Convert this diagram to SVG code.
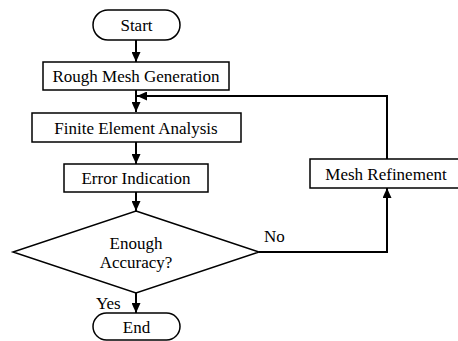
<svg xmlns="http://www.w3.org/2000/svg" width="458" height="341" viewBox="0 0 458 341">
<style>
.n{fill:#fff;stroke:#000;stroke-width:1.5}
.t{font-family:"Liberation Serif","Times New Roman",serif;font-size:17px;fill:#000;text-anchor:middle}
.l{font-family:"Liberation Serif","Times New Roman",serif;font-size:17px;fill:#000}
.c{fill:none;stroke:#000;stroke-width:2}
</style>
<defs>
<marker id="a" markerUnits="userSpaceOnUse" markerWidth="10" markerHeight="9" refX="10" refY="4.5" orient="auto">
<path d="M0,0 L10,4.5 L0,9 z" fill="#000"/>
</marker>
</defs>
<rect width="458" height="341" fill="#fff"/>
<g id="connectors">
<line class="c" x1="136" y1="40" x2="136" y2="62" marker-end="url(#a)"/>
<line class="c" x1="136" y1="90" x2="136" y2="112" marker-end="url(#a)"/>
<line class="c" x1="136" y1="142" x2="136" y2="164" marker-end="url(#a)"/>
<line class="c" x1="136" y1="192" x2="136" y2="211" marker-end="url(#a)"/>
<line class="c" x1="136" y1="293" x2="136" y2="313" marker-end="url(#a)"/>
<path class="c" d="M259,252 H387 V188" marker-end="url(#a)"/>
<path class="c" d="M387,159 V96 H137" marker-end="url(#a)"/>
<text class="l" x="264" y="242">No</text>
<text class="l" x="96" y="309">Yes</text>
</g>
<g id="start">
<rect class="n" x="93" y="10" width="87" height="30" rx="15" ry="15"/>
<text class="t" x="136.5" y="31">Start</text>
</g>
<g id="rough">
<rect class="n" x="43" y="62" width="186" height="28"/>
<text class="t" x="136" y="82">Rough Mesh Generation</text>
</g>
<g id="fea">
<rect class="n" x="32" y="113" width="209" height="29"/>
<text class="t" x="136" y="134">Finite Element Analysis</text>
</g>
<g id="error">
<rect class="n" x="64" y="164" width="144" height="28"/>
<text class="t" x="136" y="184">Error Indication</text>
</g>
<g id="decision">
<polygon class="n" points="136,211 259,252 136,293 13,252"/>
<text class="t" x="136" y="249">Enough</text>
<text class="t" x="136" y="268">Accuracy?</text>
</g>
<g id="refine">
<rect class="n" x="310" y="159" width="150" height="29"/>
<text class="t" x="386" y="180">Mesh Refinement</text>
</g>
<g id="end">
<rect class="n" x="93" y="313" width="87" height="27" rx="13.5" ry="13.5"/>
<text class="t" x="136.5" y="333">End</text>
</g>
</svg>
